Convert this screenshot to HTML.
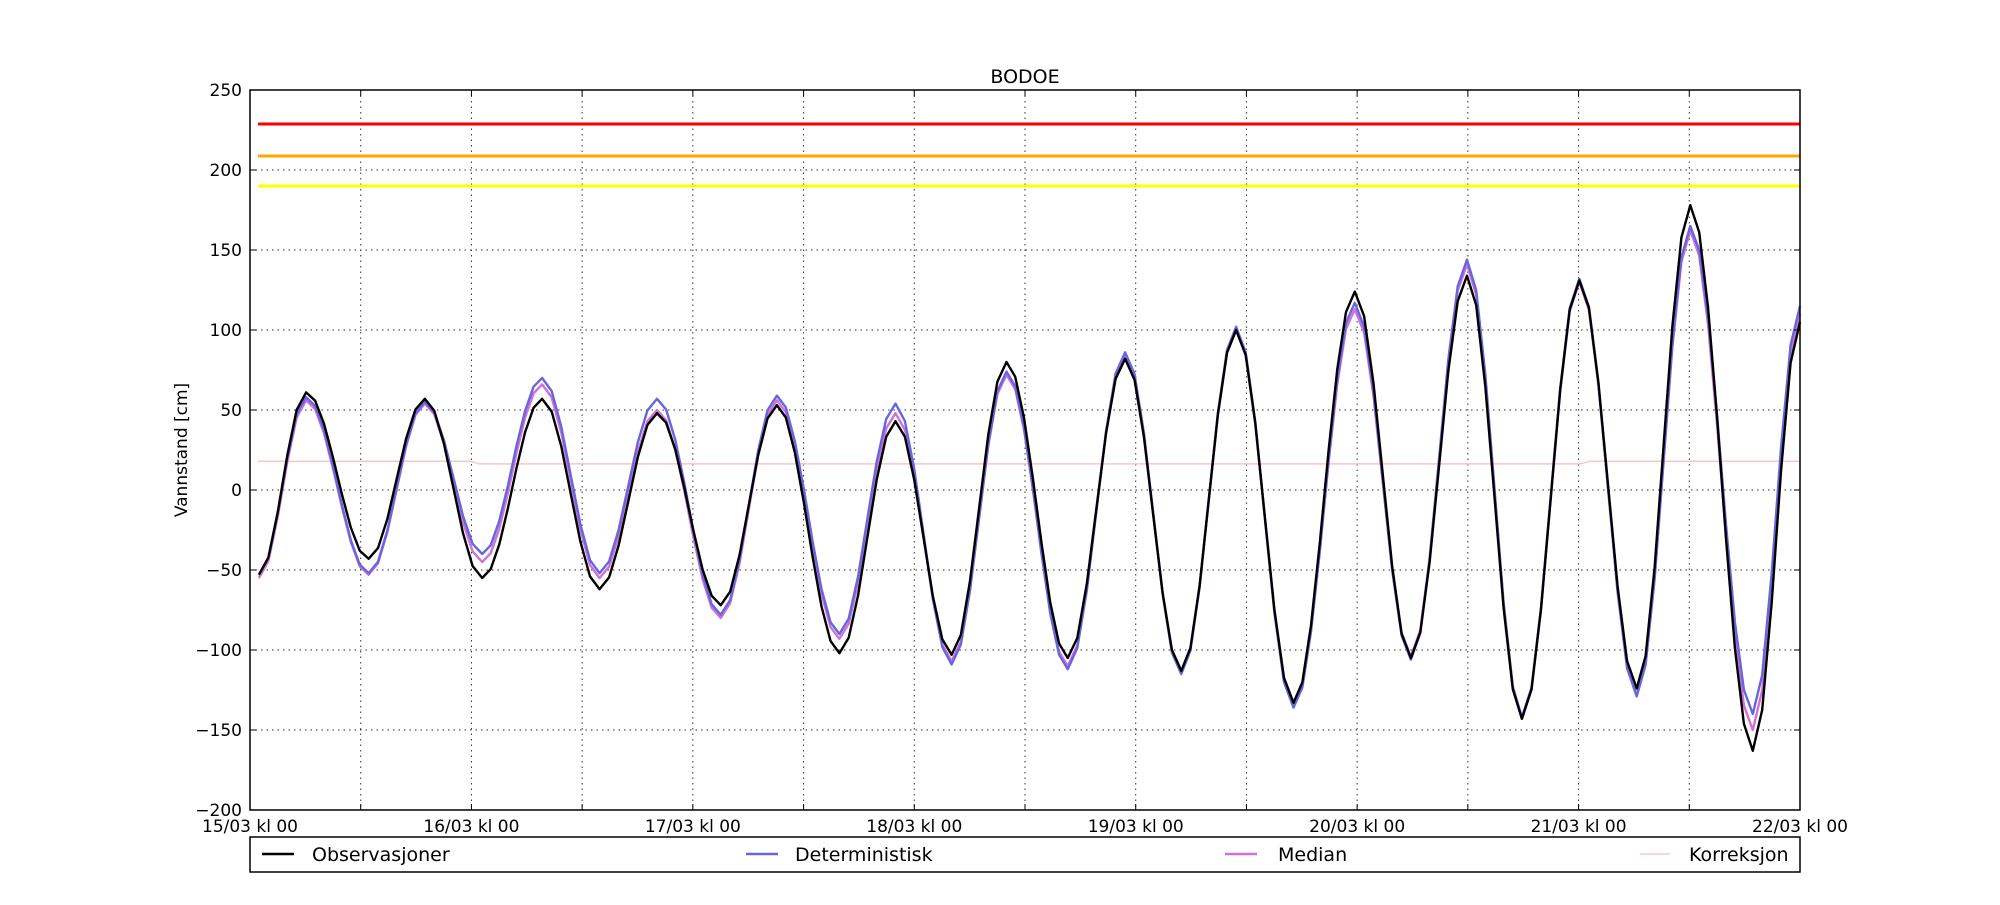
<!DOCTYPE html>
<html><head><meta charset="utf-8"><style>
body{margin:0;background:#fff;}
svg text{font-family:"DejaVu Sans","Liberation Sans",sans-serif;fill:#000;}
</style></head><body>
<svg id="s" width="2000" height="900" xmlns="http://www.w3.org/2000/svg">
<rect width="2000" height="900" fill="#fff"/>
<g id="grid" stroke="#000" stroke-width="1" stroke-dasharray="1.5,4" opacity="0.8"></g>
<line x1="258" x2="1800" y1="124" y2="124" stroke="#ff0000" stroke-width="3"/>
<line x1="258" x2="1800" y1="156" y2="156" stroke="#ffa500" stroke-width="3"/>
<line x1="258" x2="1800" y1="186" y2="186" stroke="#ffff00" stroke-width="3"/>
<g id="series" fill="none" stroke-width="2.4" stroke-linejoin="round"></g>
<rect x="250" y="90" width="1550" height="720" fill="none" stroke="#000" stroke-width="1.5"/>
<g id="ticks"></g>
<text x="1025" y="83" font-size="19" text-anchor="middle">BODOE</text>
<text transform="translate(187,450) rotate(-90)" font-size="17" text-anchor="middle">Vannstand [cm]</text>
<rect x="250" y="837" width="1550" height="35" fill="#fff" stroke="#000" stroke-width="1.5"/>
<line x1="262" x2="294" y1="854" y2="854" stroke="#000" stroke-width="2.4"/>
<text x="312" y="861" font-size="19">Observasjoner</text>
<line x1="746" x2="778" y1="854" y2="854" stroke="#6666dd" stroke-width="2.4"/>
<text x="795" y="861" font-size="19">Deterministisk</text>
<line x1="1225" x2="1257" y1="854" y2="854" stroke="#d070d8" stroke-width="2.4"/>
<text x="1278" y="861" font-size="19">Median</text>
<line x1="1640" x2="1670" y1="854" y2="854" stroke="#f4c8c8" stroke-width="1.5"/>
<text x="1689" y="861" font-size="19">Korreksjon</text>
</svg>
<script>
var NS="http://www.w3.org/2000/svg";
function el(p,t,a,txt){var e=document.createElementNS(NS,t);for(var k in a)e.setAttribute(k,a[k]);if(txt)e.textContent=txt;document.getElementById(p).appendChild(e);return e;}
function Y(v){return 810-(v+200)*1.6;}
var dx=1550/7;
for(var i=1;i<14;i++){var x=250+i*dx/2;el("grid","line",{x1:x,x2:x,y1:90,y2:810});}
for(var v=-150;v<=200;v+=50){el("grid","line",{x1:250,x2:1800,y1:Y(v),y2:Y(v)});}
for(var v=-200;v<=250;v+=50){el("ticks","text",{x:242,y:Y(v)+6,"font-size":17,"text-anchor":"end"},(v<0?"\u2212"+(-v):""+v));
 el("ticks","line",{x1:250,x2:256,y1:Y(v),y2:Y(v),stroke:"#000"});el("ticks","line",{x1:1794,x2:1800,y1:Y(v),y2:Y(v),stroke:"#000"});}
for(var i=0;i<=14;i++){var x=250+i*dx/2;el("ticks","line",{x1:x,x2:x,y1:804,y2:810,stroke:"#000"});el("ticks","line",{x1:x,x2:x,y1:90,y2:96,stroke:"#000"});}
var days=["15/03","16/03","17/03","18/03","19/03","20/03","21/03","22/03"];
for(var i=0;i<8;i++){el("ticks","text",{x:250+i*dx,y:832,"font-size":17,"text-anchor":"middle"},days[i]+" kl 00");}
var xs=[203,240,289,333,378,425,470,515,565,609,658,702,746,789,837,882,926,969,1014,1062,1106,1150,1193,1238,1283,1325,1374,1411];
var obs=[-53,61,-43,57,-55,57,-62,48,-72,53,-102,43,-103,80,-105,82,-113,100,-133,124,-105,134,-143,131,-124,178,-163,105];
var det=[-53,58,-52,55,-40,70,-52,57,-78,59,-90,54,-109,74,-112,86,-115,102,-136,117,-106,144,-142,132,-129,165,-140,115];
var med=[-55,56,-53,54,-45,66,-55,50,-80,56,-93,48,-107,72,-110,84,-114,100,-135,113,-104,141,-143,130,-128,162,-150,110];
function X(x){return 250+(x-196)*1550/1215;}
function path(vals,col,flat){var d="";for(var i=0;i<xs.length-1;i++){var x0=X(xs[i]),x1=X(xs[i+1]);var n=Math.max(3,Math.round((x1-x0)/9.2));
 for(var k=(i==0?0:1);k<=n;k++){var t=k/n;var s=(1-Math.cos(Math.PI*t))/2;if(i==xs.length-2)s=Math.min(1,s);var v=vals[i]+(vals[i+1]-vals[i])*s;d+=(d?"L":"M")+(x0+(x1-x0)*t).toFixed(1)+","+Y(v).toFixed(1);}}
 el("series","path",{d:d,stroke:col});}
el("series","path",{d:"M258,"+Y(18)+"L470,"+Y(18)+"L480,"+Y(16.3)+"L1580,"+Y(16.3)+"L1590,"+Y(18)+"L1800,"+Y(18),stroke:"#f4c8c8","stroke-width":1.5});
path(med,"#d070d8");path(det,"#6666dd");path(obs,"#000");
</script>
</body></html>
